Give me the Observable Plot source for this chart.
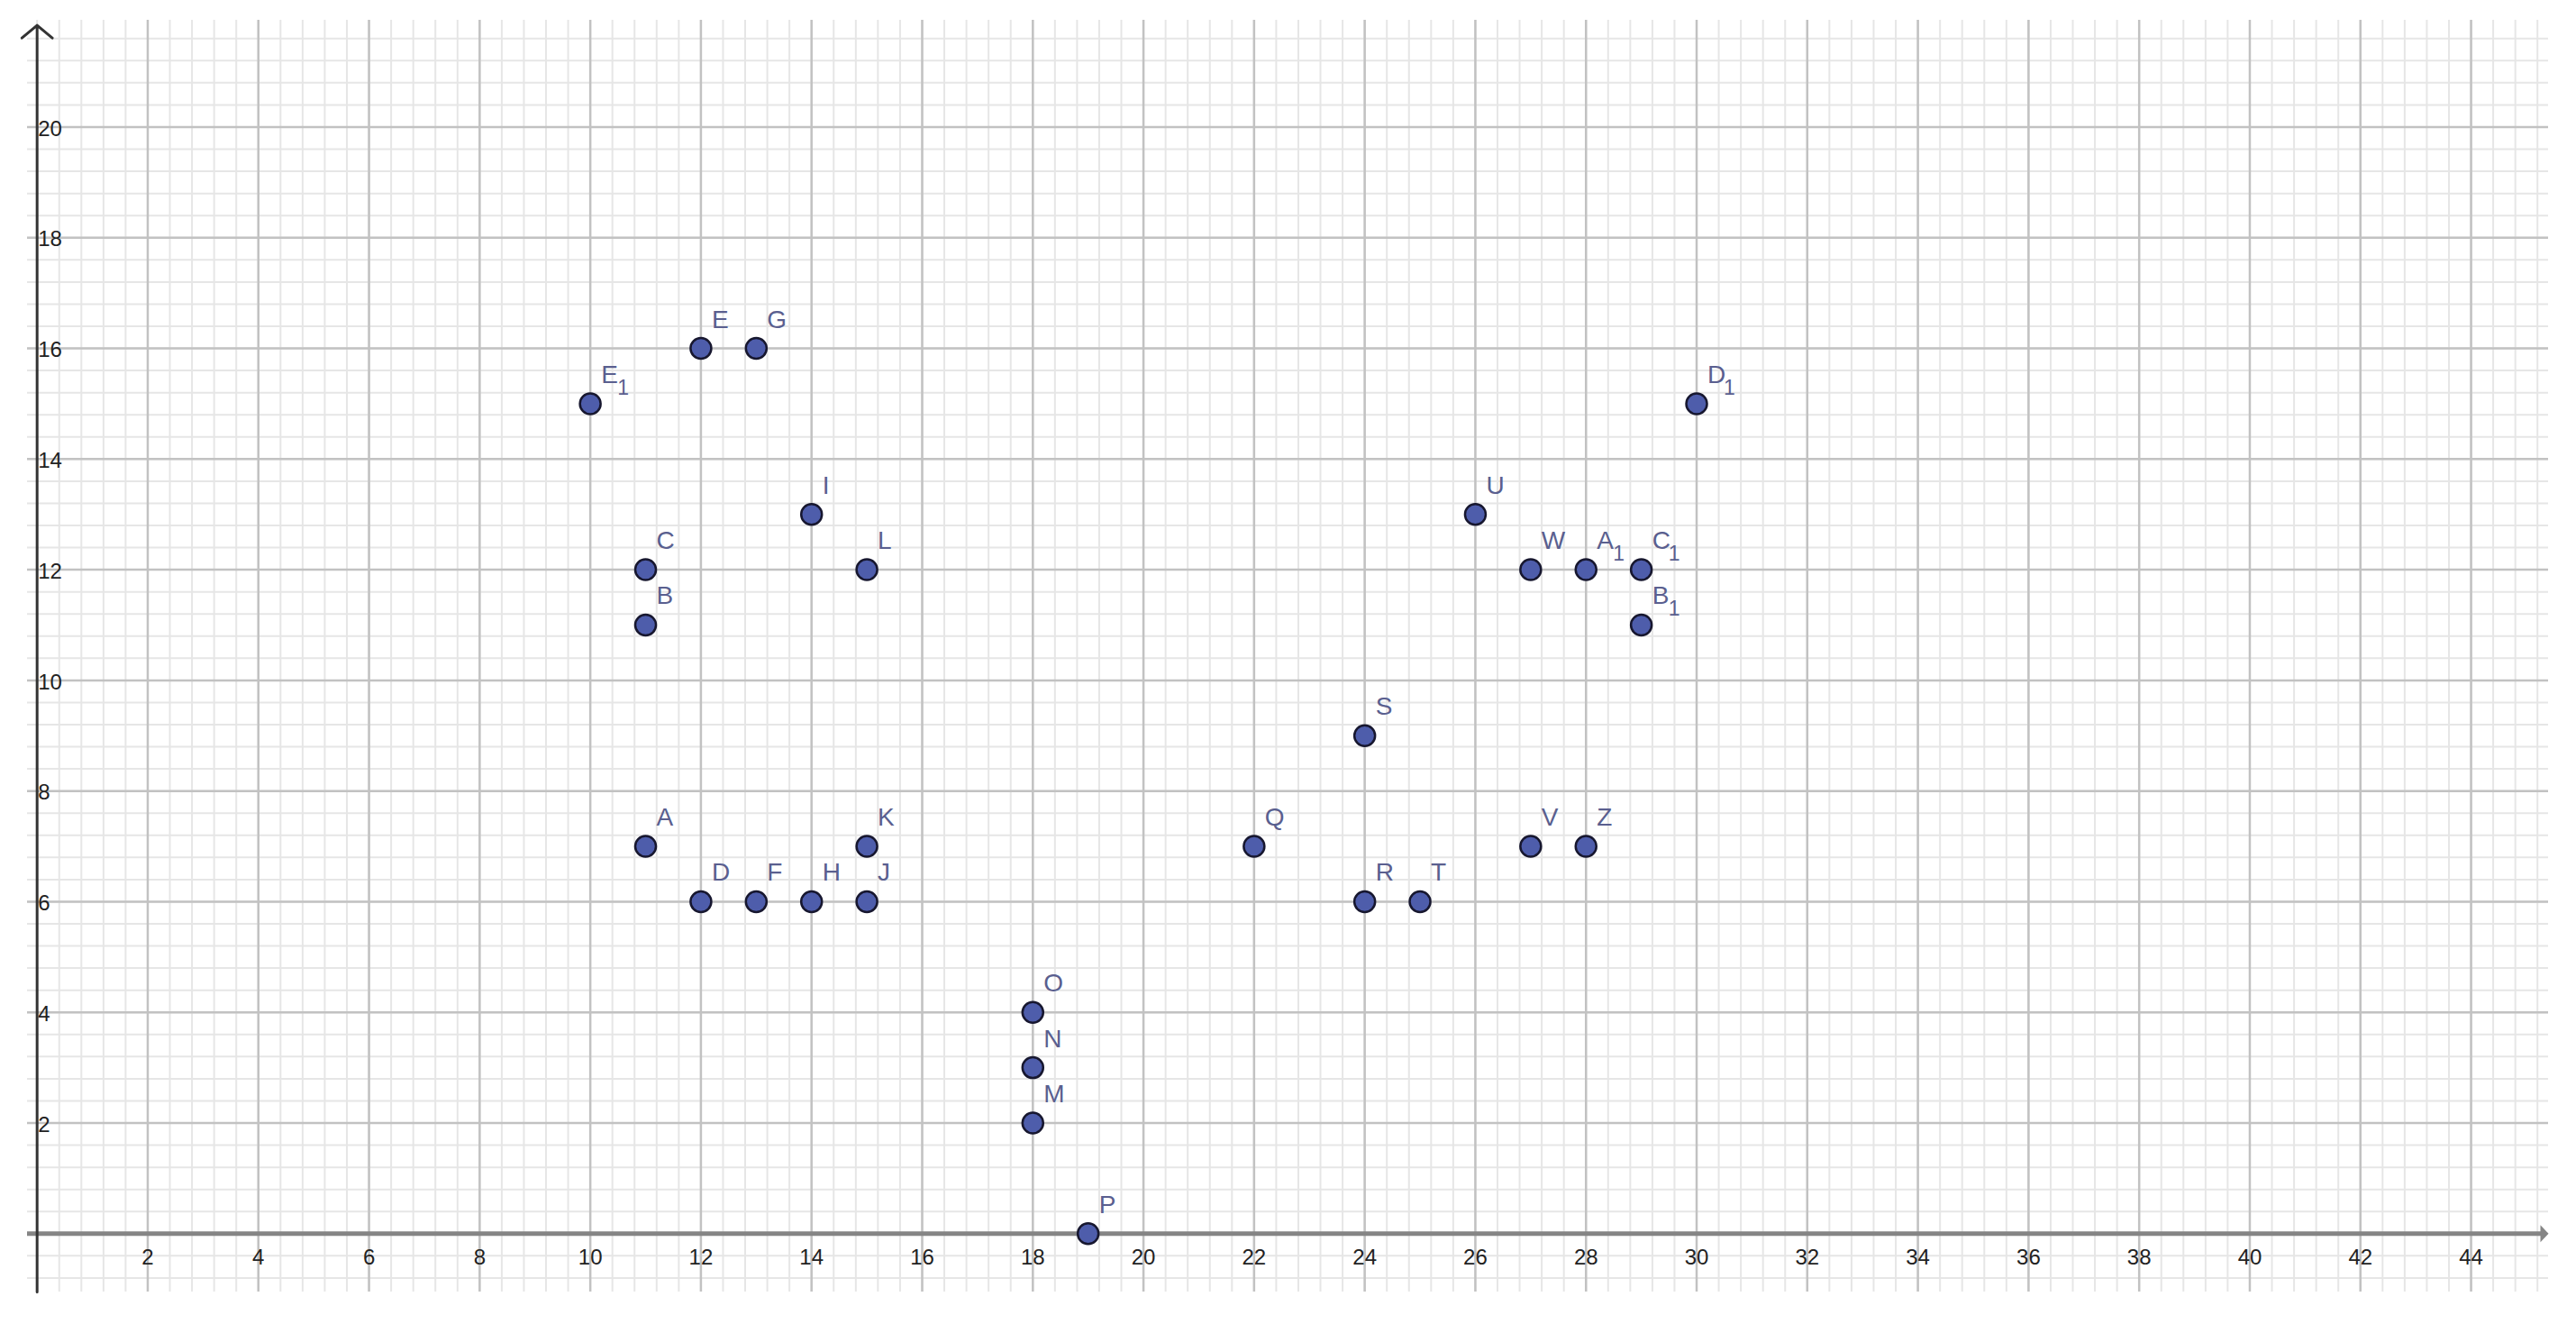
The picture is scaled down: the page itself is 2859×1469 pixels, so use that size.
<!DOCTYPE html>
<html>
<head>
<meta charset="utf-8">
<script src="https://cdn.jsdelivr.net/npm/d3@7"></script>
<script src="https://cdn.jsdelivr.net/npm/@observablehq/plot@0.6"></script>
<style>
  html, body { margin: 0; padding: 0; background: #ffffff; }
  #chart svg { display: block; }
</style>
</head>
<body>
<div id="chart"></div>
<script>
// ---- data ----
const pointNames = ["A","B","C","D","E","F","G","H","I","J","K","L","M","N","O","P","Q","R","S","T","U","V","W","Z","A","B","C","D","E"];
const pointSubs  = ["","","","","","","","","","","","","","","","","","","","","","","","","1","1","1","1","1"];
const pointX = [11,11,11,12,12,13,13,14,14,15,15,15,18,18,18,19,22,24,24,25,26,27,27,28,28,29,29,30,10];
const pointY = [7,11,12,6,16,6,16,6,13,6,7,12,2,3,4,0,7,6,9,6,13,7,12,7,12,11,12,15,15];
const xTickLabels = [2,4,6,8,10,12,14,16,18,20,22,24,26,28,30,32,34,36,38,40,42,44];
const yTickLabels = [2,4,6,8,10,12,14,16,18,20];

const xDomain = [-0.174, 45.4];
const yDomain = [-1.054, 21.93];

const points = pointNames.map((n, i) => ({name: n, sub: pointSubs[i], x: pointX[i], y: pointY[i]}));
const subPoints = points.filter(d => d.sub !== "");

// grid positions (minor every 0.4, major every 2)
const minorX = d3.range(0, 114).map(i => +(i * 0.4).toFixed(2)).filter(v => v <= xDomain[1]);
const minorY = d3.range(-2, 55).map(i => +(i * 0.4).toFixed(2)).filter(v => v >= yDomain[0] && v <= yDomain[1]);
const majorX = d3.range(1, 23).map(i => i * 2);
const majorY = d3.range(1, 11).map(i => i * 2);

const arrowRight = {
  draw(ctx) {
    ctx.moveTo(0, 0);
    ctx.lineTo(-9, -9.5);
    ctx.lineTo(-9, 9.5);
    ctx.closePath();
  }
};

const font = "'Liberation Sans', Arial, Helvetica, sans-serif";

const chart = Plot.plot({
  width: 2859,
  height: 1469,
  marginLeft: 30,
  marginRight: 31,
  marginTop: 22,
  marginBottom: 36,
  x: {domain: xDomain, axis: null},
  y: {domain: yDomain, axis: null},
  style: {background: "#ffffff", fontFamily: font},
  marks: [
    Plot.ruleX(minorX, {stroke: "#e6e6e6", strokeWidth: 2}),
    Plot.ruleY(minorY, {stroke: "#e6e6e6", strokeWidth: 2}),
    Plot.ruleX(majorX, {stroke: "#c2c2c2", strokeWidth: 2.5}),
    Plot.ruleY(majorY, {stroke: "#c2c2c2", strokeWidth: 2.5}),
    // x axis
    Plot.ruleY([0], {x1: xDomain[0], x2: xDomain[1] - 0.12, stroke: "#858585", strokeWidth: 5}),
    Plot.dot([0], {x: xDomain[1], y: 0, symbol: arrowRight, r: 5, fill: "#858585", stroke: "none"}),
    // y axis
    Plot.arrow([0], {x1: 0, y1: yDomain[0], x2: 0, y2: 21.84, stroke: "#333333", strokeWidth: 3, headLength: 11, headAngle: 100}),
    // tick labels
    Plot.text(xTickLabels, {x: d => d, y: 0, text: d => String(d), dy: 27, lineAnchor: "middle", fontSize: 24, fill: "#222222"}),
    Plot.text(yTickLabels, {x: 0, y: d => d, text: d => String(d), dx: 1, dy: 2, textAnchor: "start", lineAnchor: "middle", fontSize: 24, fill: "#222222"}),
    // points
    Plot.dot(points, {x: "x", y: "y", r: 11.5, fill: "#4e5dab", stroke: "#17172f", strokeWidth: 2.5}),
    // labels
    Plot.text(points, {x: "x", y: "y", text: "name", dx: 12, dy: -23, textAnchor: "start", lineAnchor: "bottom", fontSize: 28, fill: "#5a5f8f"}),
    Plot.text(subPoints, {x: "x", y: "y", text: "sub", dx: 30, dy: -10, textAnchor: "start", lineAnchor: "bottom", fontSize: 23, fill: "#5a5f8f"})
  ]
});

document.getElementById("chart").appendChild(chart);
</script>
</body>
</html>
